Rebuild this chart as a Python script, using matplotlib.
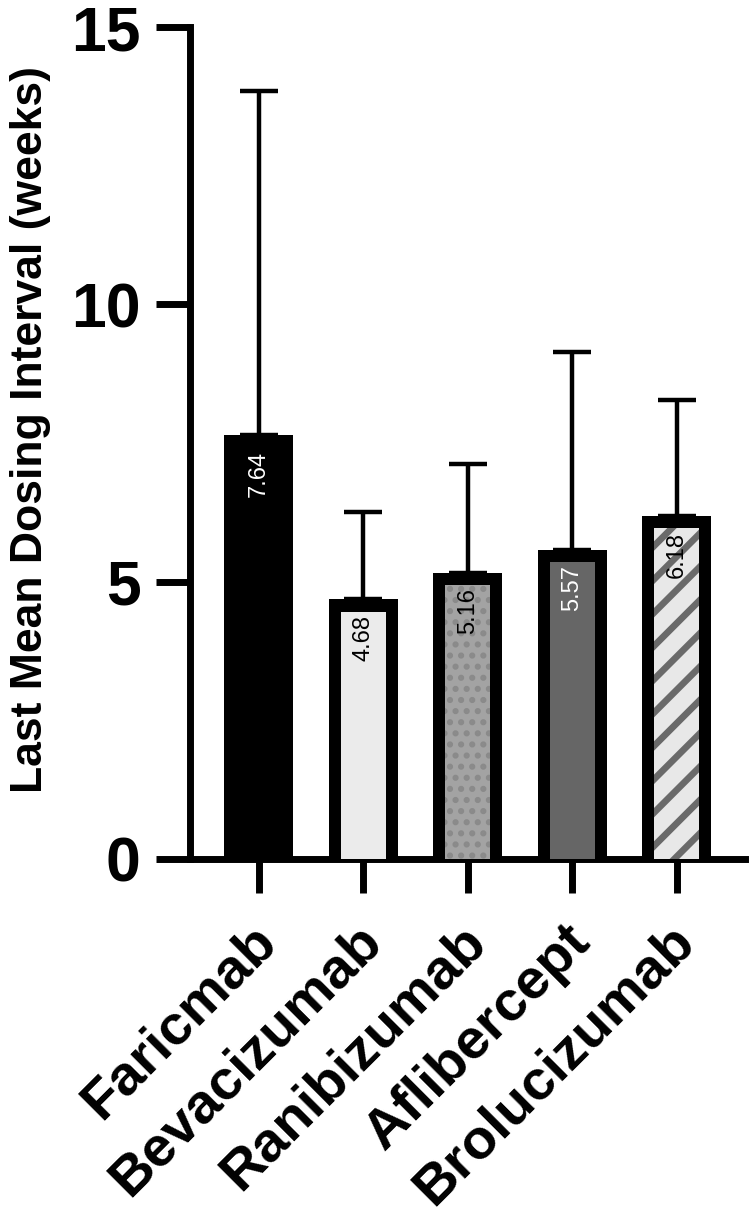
import numpy as np
import matplotlib
matplotlib.use("Agg")
import matplotlib.pyplot as plt
from matplotlib.transforms import ScaledTranslation

# data
drugs = ['Faricmab', 'Bevacizumab', 'Ranibizumab', 'Aflibercept', 'Brolucizumab']
means = [7.64, 4.68, 5.16, 5.57, 6.18]
upper_sd = [6.21, 1.58, 1.97, 3.58, 2.09]

# styling per bar
fills = ['black', '#ebebeb', '#a3a3a3', '#666666', '#e8e8e8']
hatch_cols = ['black', '#ebebeb', '#8a8a8a', '#666666', '#6a6a6a']
hatches = [None, None, '...', None, '//']
hatch_lw = [1.0, 1.0, 1.4, 1.0, 2.4]
label_cols = ['white', 'black', 'black', 'white', 'black']
framed = [False, True, True, True, True]

plt.rcParams['font.family'] = ['Liberation Sans', 'DejaVu Sans']
plt.rcParams['hatch.linewidth'] = 2.0

DPI = 200
fig = plt.figure(figsize=(750 / DPI, 1216 / DPI), dpi=DPI)
ax = fig.add_axes([0.253, 0.2936, 0.74, 0.684])

x = np.arange(len(drugs))
width = 0.66
inset_x = 0.115   # frame thickness (x, data units)
inset_y = 0.217   # frame thickness (y, data units)

ax.errorbar(x, means, yerr=[np.zeros(len(means)), upper_sd], fmt='none',
            ecolor='black', elinewidth=1.6, capsize=6.8, capthick=1.6, zorder=1)

for i in range(len(drugs)):
    ax.bar(x[i], means[i], width=width, color='black', linewidth=0, zorder=2)
    if framed[i]:
        inner = ax.bar(x[i], means[i] - inset_y, width=width - 2 * inset_x,
                       color=fills[i], edgecolor=hatch_cols[i], linewidth=0,
                       hatch=hatches[i], zorder=3)
        if hasattr(inner[0], 'set_hatch_linewidth'):
            inner[0].set_hatch_linewidth(hatch_lw[i])
    ax.annotate(f'{means[i]:.2f}', (x[i], means[i]), xytext=(0, -5.5),
                textcoords='offset points', rotation=90, ha='center', va='top',
                fontsize=8.5, color=label_cols[i], zorder=4)

ax.set_xlim(-0.66, 4.65)
ax.set_ylim(0, 15)
ax.set_yticks([0, 5, 10, 15])
ax.set_xticks(x)

for s in ['top', 'right']:
    ax.spines[s].set_visible(False)
for s in ['left', 'bottom']:
    ax.spines[s].set_linewidth(2.5)

ax.tick_params(axis='y', length=12.2, width=2.5, pad=5.4, labelsize=22.5)
ax.tick_params(axis='x', length=12.2, width=2.5, pad=8)
for lab in ax.get_yticklabels():
    lab.set_fontweight('bold')

ax.set_xticklabels(drugs, rotation=45, ha='right', va='top',
                   rotation_mode='anchor', fontsize=20.3, fontweight='bold')
for lab in ax.get_xticklabels():
    lab.set_transform(lab.get_transform() + ScaledTranslation(-3.0 / 72, 0, fig.dpi_scale_trans))

ax.set_ylabel('Last Mean Dosing Interval (weeks)', fontsize=16, fontweight='bold')
ax.yaxis.set_label_coords(-0.25, 0.516)

fig.savefig('out.png', dpi=DPI)
